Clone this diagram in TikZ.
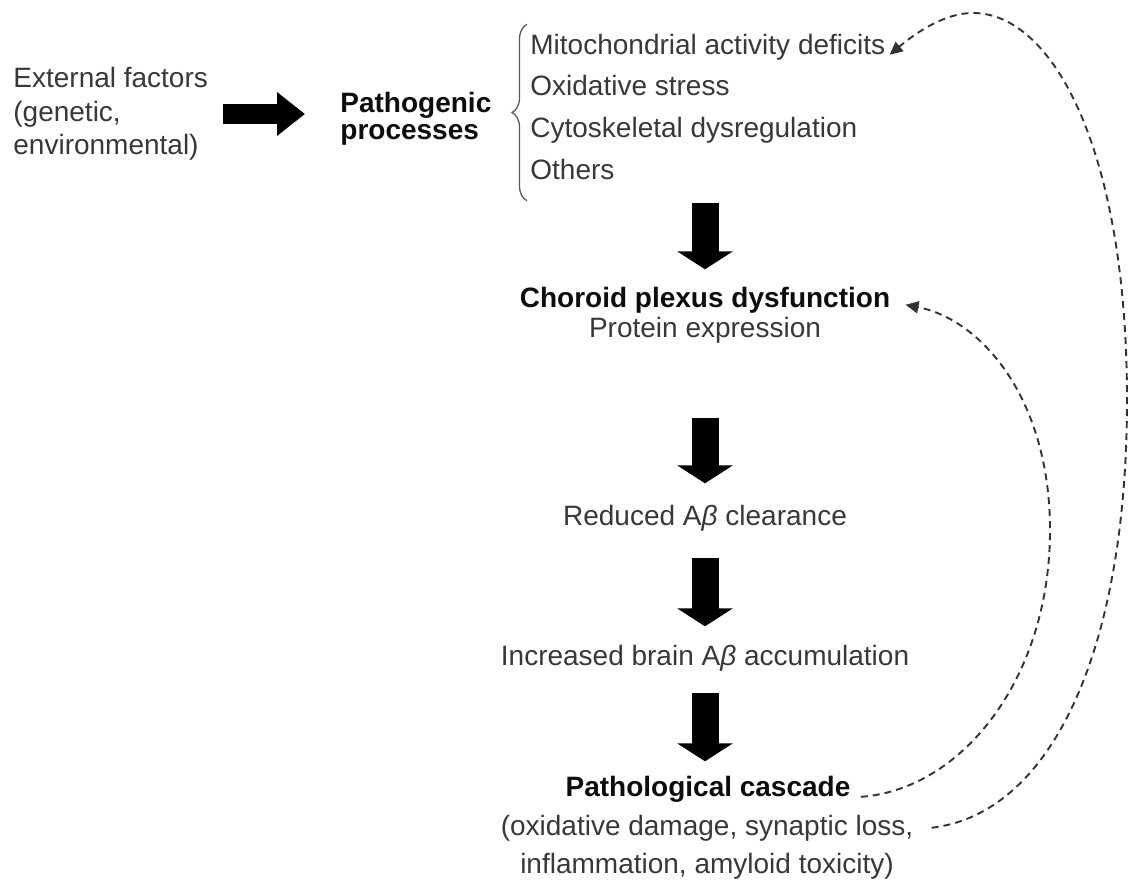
\documentclass[tikz,border=0pt]{standalone}
\usepackage{fontspec}
\setmainfont{Liberation Sans}
\usetikzlibrary{arrows.meta}
\usetikzlibrary{decorations.pathreplacing}

\tikzset{
  txt/.style={inner sep=0pt, text=black!78, font=\fontsize{14}{16.75}\selectfont},
  bold/.style={inner sep=0pt, text=black!95, font=\fontsize{14}{13.75}\selectfont\bfseries},
  fatdown/.style={line width=13.5pt, black, -{Triangle[length=9pt,width=27.5pt]}},
  fatright/.style={line width=10pt, black, -{Triangle[length=14pt,width=21pt]}},
  feedback/.style={black!80, line width=0.95pt, dash pattern=on 3.5pt off 2.5pt, -{Triangle[length=6.5pt,width=6pt]}},
  brace/.style={black!65, line width=0.65pt, decorate, decoration={brace, amplitude=7.5pt}}
}

\begin{document}
\begin{tikzpicture}[x=0.5pt, y=-0.5pt]
  \useasboundingbox (0,0) rectangle (1130,884);
  % left column
  \node [txt, align=left, anchor=west] (ext) at (13,114) {External factors\\(genetic,\\environmental)};
  \node [bold, align=left, anchor=west] (patho) at (340,119) {Pathogenic\\processes};
  \draw [fatright, shorten <=7.5pt, shorten >=17.5pt] (ext.east) -- (ext.east -| patho.west);
  % list of processes
  \node [txt, anchor=base west] (item1) at (530,54) {Mitochondrial activity deficits};
  \node [txt, anchor=base west] (item2) at (530,95.5) {Oxidative stress};
  \node [txt, anchor=base west] (item3) at (530,137) {Cytoskeletal dysregulation};
  \node [txt, anchor=base west] (item4) at (530,179) {Others};
  \draw [brace] ([xshift=-1.5pt,yshift=-10.5pt]item4.south west) -- ([xshift=-1.5pt,yshift=4.5pt]item1.north west);
  % main chain
  \node [bold, anchor=base] (choroid) at (705,307) {Choroid plexus dysfunction};
  \node [txt, anchor=base] (protein) at (705,337) {Protein expression};
  \node [txt, anchor=base] (reduced) at (705,525) {Reduced A{\itshape β} clearance};
  \node [txt, anchor=base] (increased) at (705,665) {Increased brain A{\itshape β} accumulation};
  \node [bold, anchor=base] (cascade) at (708,796) {Pathological cascade};
  \node [txt, anchor=base] (detA) at (707,835) {(oxidative damage, synaptic loss,};
  \node [txt, anchor=base] (detB) at (707,873) {inflammation, amyloid toxicity)};
  \draw [fatdown, shorten <=11.5pt, shorten >=8.5pt] (item4.south -| choroid.north) -- (choroid.north);
  \draw [fatdown, shorten <=37.5pt, shorten >=10.5pt] (protein.south) -- (reduced.north);
  \draw [fatdown, shorten <=13.5pt, shorten >=9pt] (reduced.south) -- (increased.north);
  \draw [fatdown, shorten <=11pt, shorten >=7pt] (increased.south) -- (increased.south |- cascade.north);
  % feedback loops
  \draw [feedback] ([xshift=5pt,yshift=-4pt]cascade.east) .. controls +(100,-7) and +(0,150) .. (1050,530)
        .. controls +(0,-130) and +(77,15) .. ([xshift=7.5pt,yshift=-2.5pt]choroid.east);
  \draw [feedback] ([xshift=9pt]detA.east) .. controls +(120,-14) and +(0,250) .. (1127,400)
        .. controls +(0,-250) and +(80,0) .. (973,13)
        .. controls +(-33,0) and +(18,-15) .. ([xshift=2pt,yshift=-4pt]item1.east);
\end{tikzpicture}
\end{document}
